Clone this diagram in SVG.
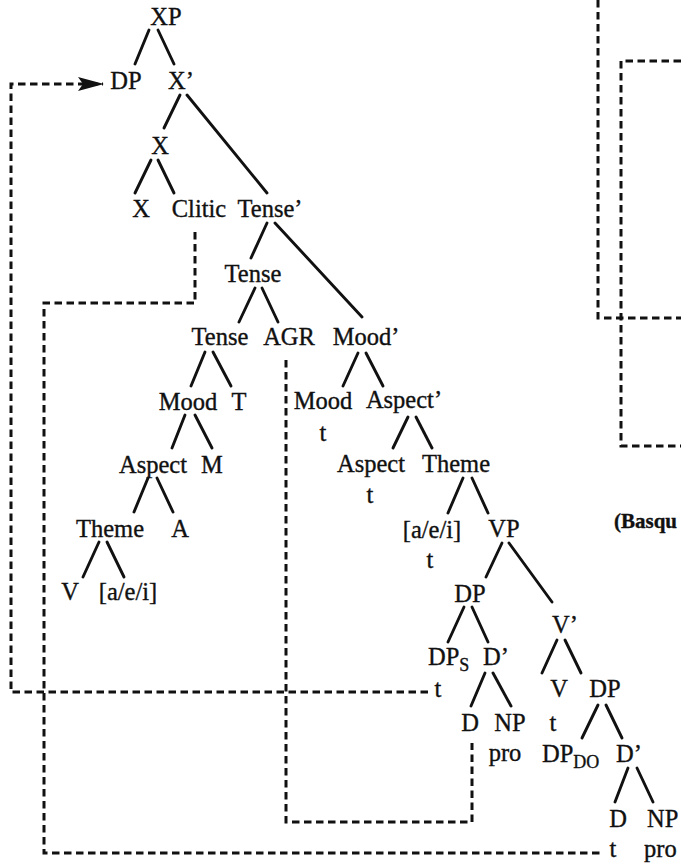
<svg xmlns="http://www.w3.org/2000/svg" width="681" height="867" viewBox="0 0 681 867">
  <style>
    text { font-family: "Liberation Serif", "DejaVu Serif", serif; font-size: 24.5px; fill: #111; stroke: #111; stroke-width: 0.35; text-anchor: middle; }
    text.l { text-anchor: start; }
    .sub { font-size: 18px; }
    .bold { font-weight: bold; font-size: 21px; }
    .edge line { stroke: #111; stroke-width: 2.9; stroke-linecap: round; }
    .move path { fill: none; stroke: #111; stroke-width: 3; stroke-dasharray: 7.5 4.5; }
  </style>
  <defs>
    <marker id="arrow" viewBox="0 0 26 16" refX="25" refY="8" markerWidth="26" markerHeight="16" markerUnits="userSpaceOnUse" orient="auto">
      <path d="M0,1 L26,8 L0,15 L5,8 Z" fill="#111"/>
    </marker>
  </defs>

  <rect width="681" height="867" fill="#fff"/>

  <!-- tree branches -->
  <g id="branches" class="edge">
    <line x1="149" y1="30" x2="135" y2="64"/>
    <line x1="158" y1="30" x2="174" y2="64"/>
    <line x1="180" y1="95" x2="164" y2="128"/>
    <line x1="187" y1="95" x2="267" y2="193"/>
    <line x1="151" y1="160" x2="135" y2="193"/>
    <line x1="158" y1="160" x2="174" y2="193"/>
    <line x1="267" y1="223" x2="251" y2="258"/>
    <line x1="275" y1="223" x2="362" y2="317"/>
    <line x1="255" y1="288" x2="239" y2="322"/>
    <line x1="262" y1="288" x2="278" y2="322"/>
    <line x1="205" y1="352" x2="191" y2="386"/>
    <line x1="213" y1="352" x2="231" y2="386"/>
    <line x1="358" y1="353" x2="343" y2="386"/>
    <line x1="366" y1="353" x2="383" y2="386"/>
    <line x1="185" y1="415" x2="172" y2="448"/>
    <line x1="195" y1="415" x2="212" y2="448"/>
    <line x1="408" y1="417" x2="393" y2="448"/>
    <line x1="416" y1="417" x2="432" y2="448"/>
    <line x1="148" y1="478" x2="134" y2="512"/>
    <line x1="157" y1="478" x2="173" y2="512"/>
    <line x1="463" y1="478" x2="448" y2="513"/>
    <line x1="472" y1="478" x2="488" y2="513"/>
    <line x1="99" y1="542" x2="83" y2="577"/>
    <line x1="107" y1="542" x2="124" y2="577"/>
    <line x1="502" y1="543" x2="486" y2="577"/>
    <line x1="509" y1="543" x2="552" y2="602"/>
    <line x1="464" y1="607" x2="448" y2="642"/>
    <line x1="472" y1="607" x2="488" y2="642"/>
    <line x1="557" y1="640" x2="542" y2="673"/>
    <line x1="565" y1="640" x2="581" y2="673"/>
    <line x1="485" y1="673" x2="471" y2="706"/>
    <line x1="493" y1="673" x2="511" y2="706"/>
    <line x1="598" y1="705" x2="582" y2="738"/>
    <line x1="606" y1="705" x2="622" y2="738"/>
    <line x1="628" y1="768" x2="615" y2="802"/>
    <line x1="637" y1="768" x2="653" y2="802"/>
  </g>

  <!-- movement paths -->
  <g id="movement" class="move">
    <path d="M428,692 H11 V84 H103" marker-end="url(#arrow)"/>
    <path d="M195,232 V303 H44 V853 H603"/>
    <path d="M286,360 V822 H472 V743"/>
    <path d="M598,0 V318 H681"/>
    <path d="M681,61 H621 V446 H681"/>
  </g>

  <!-- nodes -->
  <g id="n-xp"><text x="166" y="25">XP</text></g>
  <g id="n-dp-spec"><text x="126" y="89">DP</text></g>
  <g id="n-xbar"><text x="181" y="89">X’</text></g>
  <g id="n-x-mid"><text x="160" y="154">X</text></g>
  <g id="n-x-low"><text x="141" y="217">X</text></g>
  <g id="n-clitic"><text x="199" y="217">Clitic</text></g>
  <g id="n-tensebar"><text x="270" y="217">Tense’</text></g>
  <g id="n-tense-1"><text x="253" y="282">Tense</text></g>
  <g id="n-tense-2"><text x="220" y="345">Tense</text></g>
  <g id="n-agr"><text x="289" y="345">AGR</text></g>
  <g id="n-moodbar"><text x="366" y="345">Mood’</text></g>
  <g id="n-mood-1"><text x="188" y="410">Mood</text></g>
  <g id="n-t-1"><text x="239" y="410">T</text></g>
  <g id="n-mood-2"><text x="323" y="409">Mood</text><text x="323" y="441">t</text></g>
  <g id="n-aspectbar"><text x="404" y="408">Aspect’</text></g>
  <g id="n-aspect-1"><text x="153" y="473">Aspect</text></g>
  <g id="n-m"><text x="212" y="473">M</text></g>
  <g id="n-aspect-2"><text x="371" y="472">Aspect</text><text x="370" y="503">t</text></g>
  <g id="n-theme-2"><text x="456" y="472">Theme</text></g>
  <g id="n-theme-1"><text x="110" y="537">Theme</text></g>
  <g id="n-a"><text x="180" y="537">A</text></g>
  <g id="n-aei-2"><text x="432" y="538">[a/e/i]</text><text x="430" y="568">t</text></g>
  <g id="n-vp"><text x="504" y="537">VP</text></g>
  <g id="n-v-1"><text x="70" y="600">V</text></g>
  <g id="n-aei-1"><text x="128" y="600">[a/e/i]</text></g>
  <g id="n-dp-vp"><text x="470" y="602">DP</text></g>
  <g id="n-vbar"><text x="565" y="633">V’</text></g>
  <g id="n-dps"><text class="l" x="428" y="665">DP<tspan class="sub" dy="6">S</tspan></text><text x="438" y="697">t</text></g>
  <g id="n-dbar-1"><text x="496" y="665">D’</text></g>
  <g id="n-v-2"><text x="559" y="697">V</text><text x="553" y="731">t</text></g>
  <g id="n-dp-obj"><text x="605" y="697">DP</text></g>
  <g id="n-d-1"><text x="470" y="731">D</text></g>
  <g id="n-np-1"><text x="510" y="731">NP</text><text x="505" y="761">pro</text></g>
  <g id="n-dpdo"><text class="l" x="542" y="762">DP<tspan class="sub" dy="6">DO</tspan></text></g>
  <g id="n-dbar-2"><text x="629" y="762">D’</text></g>
  <g id="n-d-2"><text x="618" y="827">D</text><text x="613" y="857">t</text></g>
  <g id="n-np-2"><text class="l" x="647" y="827">NP</text><text class="l" x="644" y="857">pro</text></g>

  <g id="caption"><text class="l bold" x="614" y="528">(Basqu</text></g>
</svg>
